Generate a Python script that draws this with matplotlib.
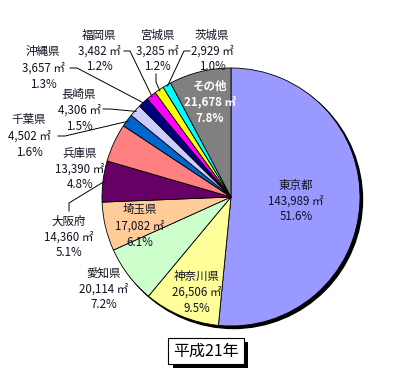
import numpy as np
import matplotlib
matplotlib.use('Agg')
import matplotlib.pyplot as plt
from matplotlib.patches import Circle
import matplotlib.patheffects as pe

plt.rcParams['font.family'] = ['Noto Sans CJK JP', 'DejaVu Sans']

# ------ data ------
prefs = ['東京都', '神奈川県', '愛知県', '埼玉県', '大阪府', '兵庫県', '千葉県',
         '長崎県', '沖縄県', '福岡県', '宮城県', '茨城県', 'その他']
areas = [143989, 26506, 20114, 17082, 14360, 13390, 4502,
         4306, 3657, 3482, 3285, 2929, 21678]
colors = ['#9999FF', '#FFFF99', '#CCFFCC', '#FFCC99', '#660066', '#FF8080', '#0066CC',
          '#CCCCFF', '#000080', '#FF00FF', '#FFFF00', '#00FFFF', '#808080']
title = '平成21年'

# ------ layout (pixel coords, y down) ------
W, H = 403, 372
cx, cy, rad = 231, 197, 129
# label block centre for each slice
label_pos = {'東京都': (296, 201), '神奈川県': (197, 292), '愛知県': (104, 289),
             '埼玉県': (140, 226), '大阪府': (69, 237), '兵庫県': (80, 169),
             '千葉県': (29, 136), '長崎県': (79, 110), '沖縄県': (43, 68),
             '福岡県': (99, 51), '宮城県': (157, 51), '茨城県': (212, 51),
             'その他': (210, 102)}
# leader lines: list of points on the label side, last joins the slice
leaders = {'大阪府': [(69, 211), (69, 203)], '千葉県': [(58, 136), (65, 136)],
           '長崎県': [(103, 109), (110, 109)], '沖縄県': [(70, 68), (77, 68)],
           '福岡県': [(124, 51), (130, 51)], '宮城県': [(156, 74), (156, 82)],
           '茨城県': [(190, 51), (184, 51)]}

fig = plt.figure(figsize=(W / 100, H / 100), dpi=100)
ax = fig.add_axes([0, 0, 1, 1])

# shadow behind the pie
ax.add_patch(Circle((cx + 2.5, cy + 2.5), rad, color='black', zorder=0))

# y axis gets flipped below -> visually clockwise from the top
wedges, _ = ax.pie(areas, colors=colors, startangle=-90, counterclock=True,
                   center=(cx, cy), radius=rad, frame=True,
                   wedgeprops=dict(edgecolor='black', linewidth=0.6))
ax.set_xlim(0, W)
ax.set_ylim(H, 0)   # pixel coords, y down
ax.set_aspect('equal')
ax.axis('off')

total = sum(areas)
for name, val, w in zip(prefs, areas, wedges):
    x, y = label_pos[name]
    lines = [name, f'{val:,} ㎡', f'{val / total * 100:.1f}%']
    col = 'white' if name == 'その他' else '#111122'
    wt = 'bold' if name == 'その他' else 'normal'
    for i, s in enumerate(lines):
        ax.text(x, y + (i - 1) * 16, s, ha='center', va='center', fontsize=8.3,
                color=col, fontweight=wt, zorder=5)
    if name in leaders:
        mid = np.deg2rad((w.theta1 + w.theta2) / 2)
        ex = cx + rad * 0.99 * np.cos(mid)
        ey = cy + rad * 0.99 * np.sin(mid)
        pts = leaders[name] + [(ex, ey)]
        ax.plot([p[0] for p in pts], [p[1] for p in pts], color='black',
                lw=0.7, zorder=4)

t = ax.text(206, 351, title, ha='center', va='center', fontsize=11.5, color='black',
            bbox=dict(boxstyle='square,pad=0.3', fc='white', ec='black', lw=0.8))
t.get_bbox_patch().set_path_effects([
    pe.SimplePatchShadow(offset=(3, -3), shadow_rgbFace='black', alpha=1.0),
    pe.Normal()])

fig.savefig('out.png', dpi=100)
